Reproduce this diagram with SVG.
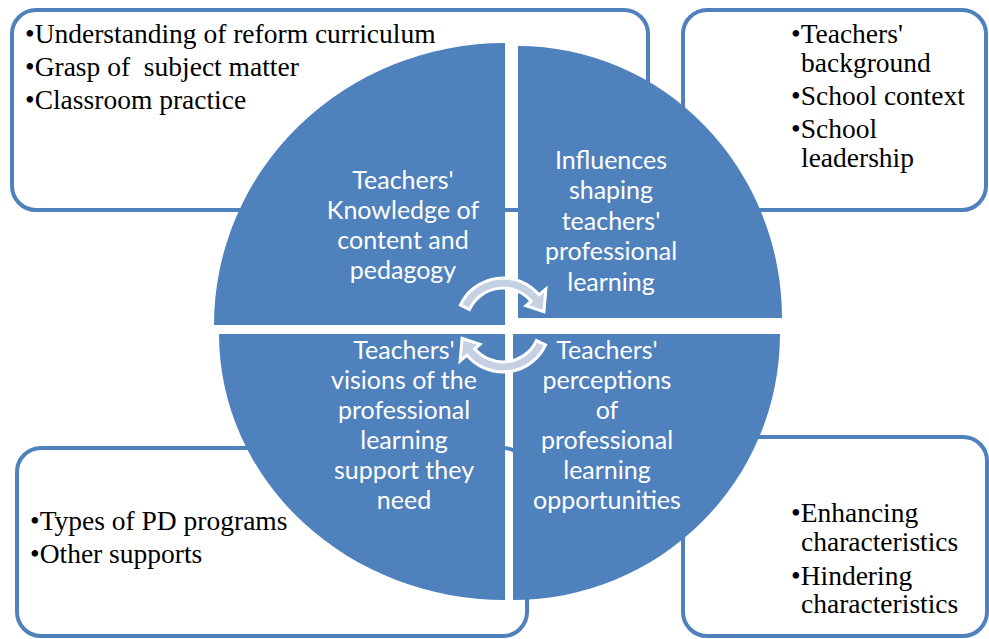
<svg xmlns="http://www.w3.org/2000/svg" width="989" height="639" viewBox="0 0 989 639">
<style>
.box{fill:#ffffff;stroke:#4f81bd;stroke-width:4}
.quad{fill:#4f81bd}
.arw{fill:#c6d0e3;stroke:#ffffff;stroke-width:3;stroke-linejoin:miter}
.bt{font-family:"Liberation Serif","Times New Roman",serif;font-size:27.5px;fill:#000000}
.qt{font-family:Lato,"Open Sans",sans-serif;font-size:25px;fill:#ffffff;text-anchor:middle}
</style>
<rect width="989" height="639" fill="#ffffff"/>
<g id="box-tl">
<rect class="box" x="12" y="10" width="636" height="200" rx="24"/>
<text class="bt" x="25" y="43">•Understanding of reform curriculum</text>
<text class="bt" x="25" y="76" xml:space="preserve">•Grasp of  subject matter</text>
<text class="bt" x="25" y="109">•Classroom practice</text>
</g>
<g id="box-tr">
<rect class="box" x="683" y="10" width="303" height="200" rx="24"/>
<text class="bt" x="791" y="43">•Teachers'</text>
<text class="bt" x="801" y="72">background</text>
<text class="bt" x="791" y="105">•School context</text>
<text class="bt" x="791" y="138">•School</text>
<text class="bt" x="801" y="167">leadership</text>
</g>
<g id="box-bl">
<rect class="box" x="17" y="448" width="510" height="188" rx="24"/>
<text class="bt" x="30" y="530">•Types of PD programs</text>
<text class="bt" x="30" y="563">•Other supports</text>
</g>
<g id="box-br">
<rect class="box" x="683" y="437" width="304" height="199" rx="24"/>
<text class="bt" x="791" y="522">•Enhancing</text>
<text class="bt" x="801" y="551">characteristics</text>
<text class="bt" x="791" y="585">•Hindering</text>
<text class="bt" x="801" y="613">characteristics</text>
</g>
<g id="quad-tl">
<path class="quad" d="M505,325 L214,325 A291,282 0 0 1 505,43 Z"/>
<text class="qt" x="403" y="189">Teachers'</text>
<text class="qt" x="403" y="219">Knowledge of</text>
<text class="qt" x="403" y="249">content and</text>
<text class="qt" x="403" y="279">pedagogy</text>
</g>
<g id="quad-tr">
<path class="quad" d="M518,318 L518,46 A264,272 0 0 1 782,318 Z"/>
<text class="qt" x="611" y="169">Influences</text>
<text class="qt" x="611" y="199">shaping</text>
<text class="qt" x="611" y="230">teachers'</text>
<text class="qt" x="611" y="260">professional</text>
<text class="qt" x="611" y="291">learning</text>
</g>
<g id="quad-bl">
<path class="quad" d="M505,334 L505,600 A286,266 0 0 1 219,334 Z"/>
<text class="qt" x="404" y="359">Teachers'</text>
<text class="qt" x="404" y="389">visions of the</text>
<text class="qt" x="404" y="419">professional</text>
<text class="qt" x="404" y="449">learning</text>
<text class="qt" x="404" y="479">support they</text>
<text class="qt" x="404" y="509">need</text>
</g>
<g id="quad-br">
<path class="quad" d="M513,334 L780,334 A267,266 0 0 1 513,600 Z"/>
<text class="qt" x="607" y="359">Teachers'</text>
<text class="qt" x="607" y="389">perceptions</text>
<text class="qt" x="607" y="419">of</text>
<text class="qt" x="607" y="449">professional</text>
<text class="qt" x="607" y="479">learning</text>
<text class="qt" x="607" y="509">opportunities</text>
</g>
<g id="connectors">
<path class="arw" d="M460.4,305.1 A47,47 0 0 1 539,294.8 L545.9,289 L543.9,311.7 L526,305.7 L531.3,301.2 A37,37 0 0 0 469.5,309.4 Z"/>
<path class="arw" transform="rotate(180 503 325)" d="M460.4,305.1 A47,47 0 0 1 539,294.8 L545.9,289 L543.9,311.7 L526,305.7 L531.3,301.2 A37,37 0 0 0 469.5,309.4 Z"/>
</g>
</svg>
